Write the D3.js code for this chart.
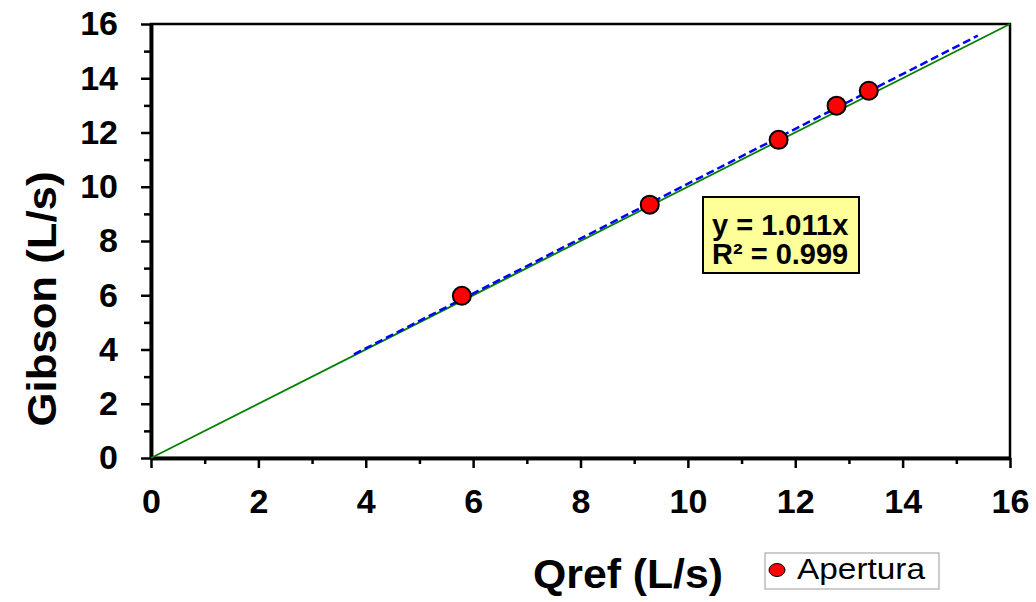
<!DOCTYPE html>
<html>
<head>
<meta charset="utf-8">
<script src="https://cdn.jsdelivr.net/npm/d3@7"></script>
<style>
  body { margin: 0; background: #fff; }
  text { font-family: Arial, "Liberation Sans", sans-serif; }
</style>
</head>
<body>
<svg width="1036" height="602"></svg>
<script>
// measured points
var qref = [5.79, 9.29, 11.69, 12.77, 13.37];
var gibson = [5.98, 9.34, 11.73, 12.99, 13.54];
var slope = 1.011;
var trendRange = [3.78, 15.4];
var identityRange = [0, 16];
var xTicks = [0, 2, 4, 6, 8, 10, 12, 14, 16];
var yTicks = [0, 2, 4, 6, 8, 10, 12, 14, 16];
var minorTicks = [1, 3, 5, 7, 9, 11, 13, 15];

var svg = d3.select("svg");
var plotLeft = 151, plotRight = 1010, plotTop = 24, plotBottom = 458;

var x = d3.scaleLinear().domain([0, 16]).range([plotLeft, plotRight]);
var y = d3.scaleLinear().domain([0, 16]).range([plotBottom, plotTop]);

// plot frame
svg.append("rect")
   .attr("x", plotLeft).attr("y", plotTop)
   .attr("width", plotRight - plotLeft).attr("height", plotBottom - plotTop)
   .attr("fill", "none").attr("stroke", "#000").attr("stroke-width", 2.5);

// axes
svg.append("g")
   .attr("transform", "translate(0," + plotBottom + ")")
   .call(d3.axisBottom(x).tickValues(xTicks).tickSize(10).tickPadding(21).tickSizeOuter(0));
svg.append("g")
   .attr("transform", "translate(0," + plotBottom + ")")
   .call(d3.axisBottom(x).tickValues(minorTicks).tickSize(6).tickFormat("").tickSizeOuter(0));
svg.append("g")
   .attr("transform", "translate(" + plotLeft + ",0)")
   .call(d3.axisLeft(y).tickValues(yTicks).tickSize(10).tickPadding(23).tickSizeOuter(0));
svg.append("g")
   .attr("transform", "translate(" + plotLeft + ",0)")
   .call(d3.axisLeft(y).tickValues(minorTicks).tickSize(7).tickFormat("").tickSizeOuter(0));

svg.selectAll(".domain").attr("stroke", "#000").attr("stroke-width", 3.5);
svg.selectAll(".tick line").attr("stroke", "#000").attr("stroke-width", 2.5);
svg.selectAll(".tick text")
   .attr("fill", "#000")
   .style("font-size", "34px")
   .style("font-weight", "bold");

// 1:1 line
svg.append("line")
   .attr("x1", x(identityRange[0])).attr("y1", y(identityRange[0]))
   .attr("x2", x(identityRange[1])).attr("y2", y(identityRange[1]))
   .attr("stroke", "#008000").attr("stroke-width", 1.8);

// trend line
svg.append("line")
   .attr("x1", x(trendRange[0])).attr("y1", y(slope * trendRange[0]))
   .attr("x2", x(trendRange[1])).attr("y2", y(slope * trendRange[1]))
   .attr("stroke", "#0000ff").attr("stroke-width", 2.5)
   .attr("stroke-dasharray", "8,4");

// points
svg.append("g").selectAll("circle")
   .data(qref)
   .enter().append("circle")
   .attr("cx", function(d) { return x(d); })
   .attr("cy", function(d, i) { return y(gibson[i]); })
   .attr("r", 9)
   .attr("fill", "#ff0000").attr("stroke", "#000").attr("stroke-width", 2);

// equation box
var eq = svg.append("g");
eq.append("rect")
  .attr("x", 703).attr("y", 197).attr("width", 156).attr("height", 76)
  .attr("fill", "#ffff99").attr("stroke", "#000").attr("stroke-width", 2);
eq.append("text").attr("x", 712).attr("y", 235)
  .style("font-size", "29px").style("font-weight", "bold")
  .text("y = 1.011x");
eq.append("text").attr("x", 712).attr("y", 264)
  .style("font-size", "29px").style("font-weight", "bold")
  .text("R² = 0.999");

// axis titles
svg.append("text")
   .attr("transform", "translate(56,299) rotate(-90)")
   .attr("text-anchor", "middle")
   .attr("textLength", 255).attr("lengthAdjust", "spacingAndGlyphs")
   .style("font-size", "40px").style("font-weight", "bold")
   .text("Gibson (L/s)");
svg.append("text")
   .attr("x", 628).attr("y", 588)
   .attr("text-anchor", "middle")
   .attr("textLength", 190).attr("lengthAdjust", "spacingAndGlyphs")
   .style("font-size", "41px").style("font-weight", "bold")
   .text("Qref (L/s)");

// legend
var lg = svg.append("g");
lg.append("rect")
  .attr("x", 765).attr("y", 553).attr("width", 174).attr("height", 36)
  .attr("fill", "#fff").attr("stroke", "#999").attr("stroke-width", 1);
lg.append("ellipse")
  .attr("cx", 777).attr("cy", 570).attr("rx", 8).attr("ry", 6.5)
  .attr("fill", "#ff0000").attr("stroke", "#000").attr("stroke-width", 1);
lg.append("text")
  .attr("x", 797).attr("y", 579)
  .attr("textLength", 128).attr("lengthAdjust", "spacingAndGlyphs")
  .style("font-size", "29px")
  .text("Apertura");
</script>
</body>
</html>
